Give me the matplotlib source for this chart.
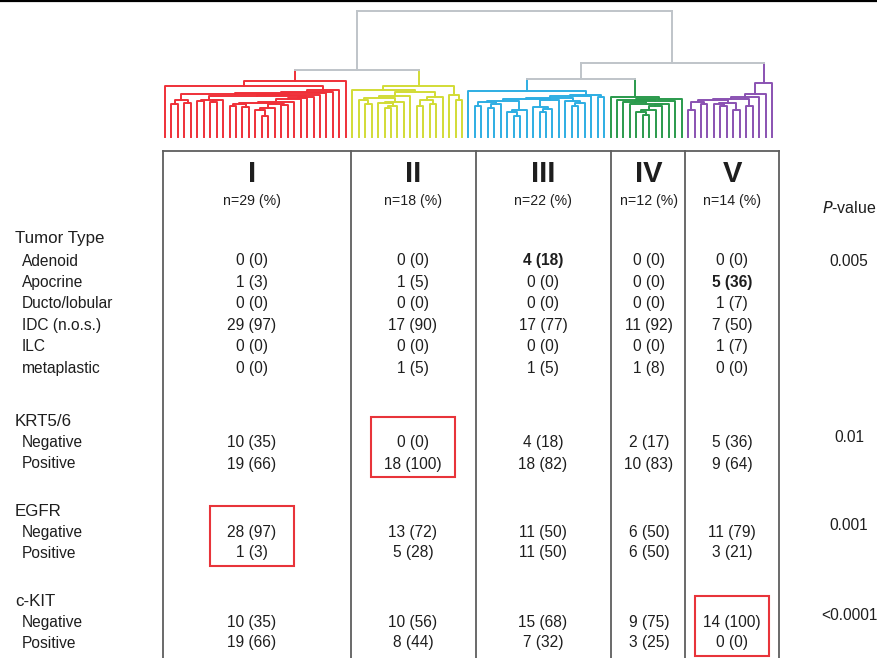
import numpy as np
import matplotlib
matplotlib.use("Agg")
import matplotlib.pyplot as plt
from matplotlib.patches import Rectangle

plt.rcParams['font.family'] = ['Liberation Sans', 'DejaVu Sans']

# cluster info
clusters = ["I", "II", "III", "IV", "V"]
cluster_n = [29, 18, 22, 12, 14]
cluster_colors = ["#ef3038", "#d2dc36", "#2eaee3", "#2a9a4c", "#8a52b2"]

# dendrogram: merge height between neighbouring leaves inside each cluster
red_gaps = [51, 33, 37, 34, 43, 36, 37, 35, 37, 41, 31, 33, 30, 34, 27, 21, 29, 33, 32, 35, 38, 39, 40, 42, 44, 45, 47, 56]
yellow_gaps = [47, 37, 33, 39, 34, 29, 31, 35, 41, 45, 31, 37, 33, 40, 51, 42, 37]
blue_gaps = [46, 31, 35, 29, 33, 36, 25, 21, 27, 38, 30, 25, 28, 37, 39, 36, 31, 34, 41, 42, 40]
green_gaps = [40, 37, 35, 33, 25, 22, 27, 31, 33, 36, 38]
purple_gaps = [27, 35, 33, 37, 33, 31, 34, 27, 38, 31, 40, 43, 54]
h_I_II = 67
h_III_IV = 58
h_IIIIV_V = 74
h_root = 126

# table
tumor_types = ["Adenoid", "Apocrine", "Ducto/lobular", "IDC (n.o.s.)", "ILC", "metaplastic"]
tumor_counts = [[0, 1, 0, 29, 0, 0], [0, 1, 0, 17, 0, 1], [4, 0, 0, 17, 0, 1],
                [0, 0, 0, 11, 0, 1], [0, 5, 1, 7, 1, 0]]
tumor_pct = [[0, 3, 0, 97, 0, 0], [0, 5, 0, 90, 0, 5], [18, 0, 0, 77, 0, 5],
             [0, 0, 0, 92, 0, 8], [0, 36, 7, 50, 7, 0]]
tumor_bold = [(2, 0), (4, 1)]   # (cluster, row)

markers = ["KRT5/6", "EGFR", "c-KIT"]
neg_counts = [[10, 0, 4, 2, 5], [28, 13, 11, 6, 11], [10, 10, 15, 9, 14]]
neg_pct = [[35, 0, 18, 17, 36], [97, 72, 50, 50, 79], [35, 56, 68, 75, 100]]
pos_counts = [[19, 18, 18, 10, 9], [1, 5, 11, 6, 3], [19, 8, 7, 3, 0]]
pos_pct = [[66, 100, 82, 83, 64], [3, 28, 50, 50, 21], [66, 44, 32, 25, 0]]
marker_boxed = [1, 0, 4]        # cluster highlighted per marker
p_values = ["0.005", "0.01", "0.001", "<0.0001"]

W, H = 878, 658
fig = plt.figure(figsize=(W / 100, H / 100), dpi=100)

# ---------- dendrogram ----------
grey = "#bfc4c9"
lw = 1.4
dax = fig.add_axes([165 / W, 1 - 137 / H, 607 / W, 126 / H])
dax.set_xlim(0, sum(cluster_n) - 1)
dax.set_ylim(0, 126)
dax.axis("off")


def build(gaps, lo, hi, offset, color):
    # returns (x, height) of the subtree holding leaves lo..hi
    if lo == hi:
        return offset + lo, 0
    i = lo + int(np.argmax(gaps[lo:hi]))
    xl, hl = build(gaps, lo, i, offset, color)
    xr, hr = build(gaps, i + 1, hi, offset, color)
    h = gaps[i]
    dax.plot([xl, xl, xr, xr], [hl, h, h, hr], color=color, lw=lw, clip_on=False)
    return (xl + xr) / 2, h


all_gaps = [red_gaps, yellow_gaps, blue_gaps, green_gaps, purple_gaps]
roots = []
offset = 0
for gaps, n, c in zip(all_gaps, cluster_n, cluster_colors):
    roots.append(build(gaps, 0, n - 1, offset, c))
    offset += n


def join(a, b, h, ca, cb):
    (xa, ha), (xb, hb) = a, b
    dax.plot([xa, xa], [ha, h], color=ca, lw=lw, clip_on=False)
    dax.plot([xb, xb], [hb, h], color=cb, lw=lw, clip_on=False)
    dax.plot([xa, xb], [h, h], color=grey, lw=lw, clip_on=False)
    return (xa + xb) / 2, h


left = join(roots[0], roots[1], h_I_II, cluster_colors[0], cluster_colors[1])
mid = join(roots[2], roots[3], h_III_IV, cluster_colors[2], cluster_colors[3])
right = join(mid, roots[4], h_IIIIV_V, grey, cluster_colors[4])
join(left, right, h_root, grey, grey)

# ---------- table ----------
ax = fig.add_axes([0, 0, 1, 1])
ax.set_xlim(0, W)
ax.set_ylim(H, 0)
ax.axis("off")
ax.plot([0, W], [0.8, 0.8], color="black", lw=1.6)

col_edges = [163, 351, 476, 611, 685, 779]
col_centers = [252, 413, 543, 649, 732]
p_x = 849
top = 151
line_c = "#5e5e5e"
ax.plot([col_edges[0], col_edges[-1]], [top, top], color=line_c, lw=1.3)
for x in col_edges:
    ax.plot([x, x], [top, H], color=line_c, lw=1.3)

txt = "#1e1e1e"
fs = 11.2
for cx, name, n in zip(col_centers, clusters, cluster_n):
    ax.text(cx, 174, name, ha="center", va="center", fontsize=21, fontweight="bold", color=txt)
    ax.text(cx, 201, f"n={n} (%)", ha="center", va="center", fontsize=10.2, color=txt)
ax.text(p_x, 208, r"$\it{P}$-value", ha="center", va="center", fontsize=11.5, color=txt)

# tumor type block
ax.text(15, 239, "Tumor Type", ha="left", va="center", fontsize=12.2, color=txt)
row_step = 21.4
for r, t in enumerate(tumor_types):
    y = 261 + r * row_step
    ax.text(22, y, t, ha="left", va="center", fontsize=fs, color=txt)
    for c, cx in enumerate(col_centers):
        bold = (c, r) in tumor_bold
        ax.text(cx, y, f"{tumor_counts[c][r]} ({tumor_pct[c][r]})", ha="center", va="center",
                fontsize=fs, color=txt, fontweight="bold" if bold else "normal")
ax.text(p_x, 261, p_values[0], ha="center", va="center", fontsize=fs, color=txt)

# marker blocks
block_y = [422, 511, 601]
for m, (name, by) in enumerate(zip(markers, block_y)):
    ax.text(15, by, name, ha="left", va="center", fontsize=12.2, color=txt)
    yn, yp = by + 21, by + 42
    ax.text(22, yn, "Negative", ha="left", va="center", fontsize=fs, color=txt)
    ax.text(22, yp, "Positive", ha="left", va="center", fontsize=fs, color=txt)
    for c, cx in enumerate(col_centers):
        ax.text(cx, yn, f"{neg_counts[m][c]} ({neg_pct[m][c]})", ha="center", va="center", fontsize=fs, color=txt)
        ax.text(cx, yp, f"{pos_counts[m][c]} ({pos_pct[m][c]})", ha="center", va="center", fontsize=fs, color=txt)
    ax.text(p_x, yn - 6, p_values[m + 1], ha="center", va="center", fontsize=fs, color=txt)
    bc = col_centers[marker_boxed[m]]
    bw = 84 if m != 2 else 74
    ax.add_patch(Rectangle((bc - bw / 2, by - 5), bw, 60, fill=False, ec="#e8343a", lw=1.5))

fig.savefig("out.png", dpi=100)
